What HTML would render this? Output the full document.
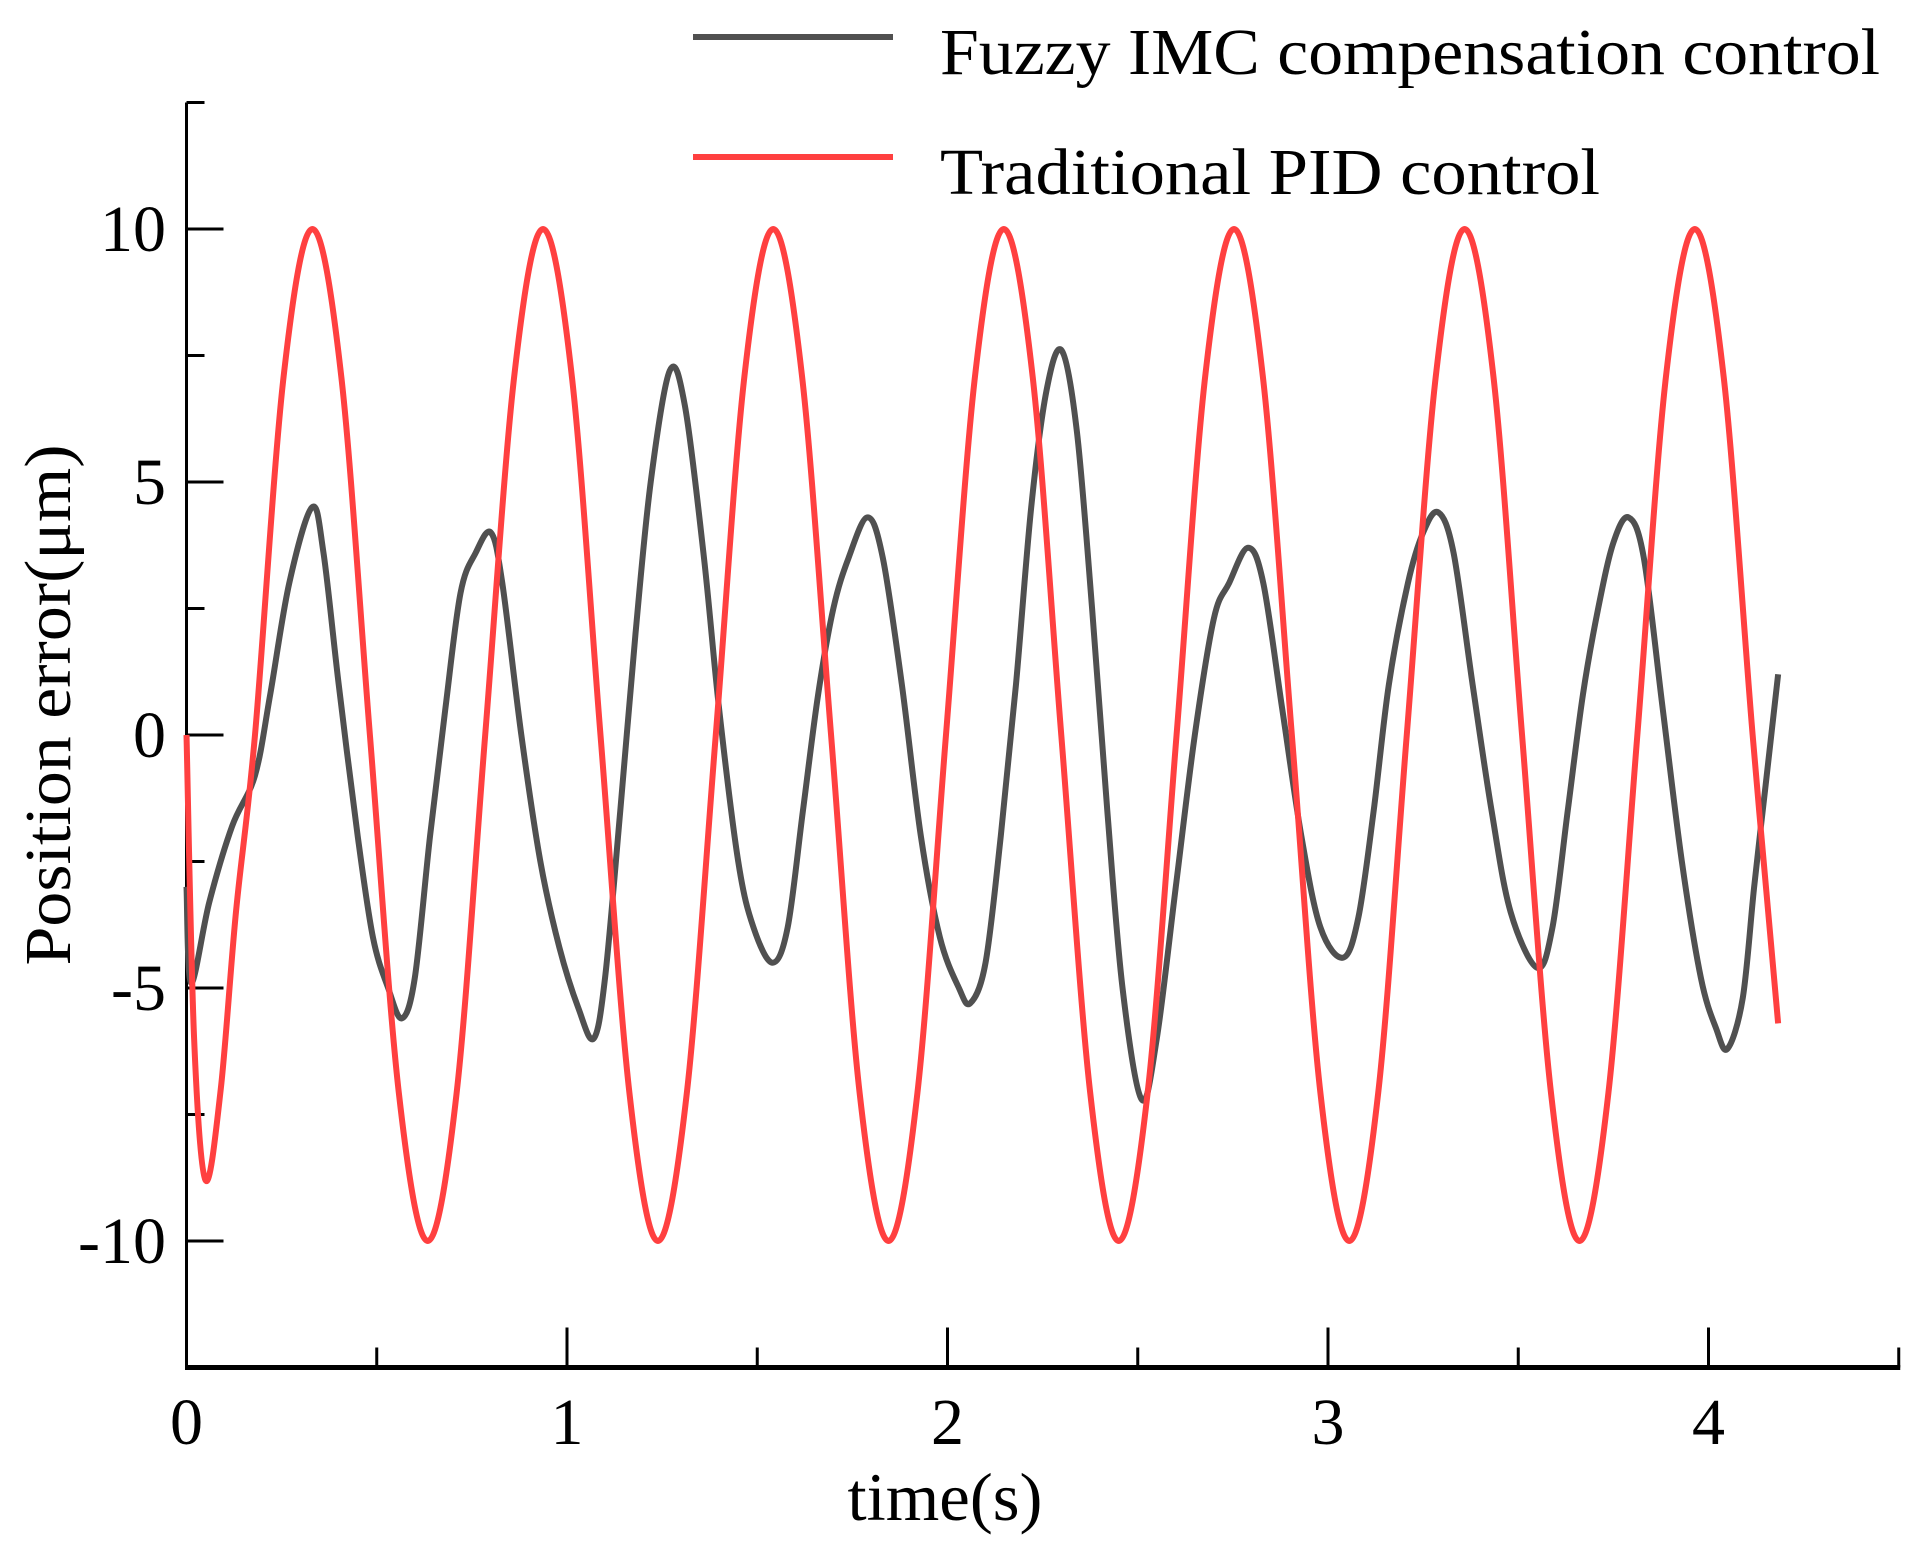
<!DOCTYPE html>
<html><head><meta charset="utf-8"><style>
html,body{margin:0;padding:0;background:#fff;}
svg{display:block;}
text{font-family:"Liberation Serif",serif;fill:#000;}
</style></head><body>
<svg id="chart" width="1914" height="1542" viewBox="0 0 1914 1542" xmlns="http://www.w3.org/2000/svg">
<g id="axes"></g>
<g id="series"></g>
<g>
<line x1="693" y1="37" x2="893" y2="37" stroke="#505050" stroke-width="6"/>
<text x="940" y="74" font-size="66" textLength="940" lengthAdjust="spacingAndGlyphs">Fuzzy IMC compensation control</text>
<line x1="693" y1="157" x2="893" y2="157" stroke="#ff4040" stroke-width="6"/>
<text x="940" y="194" font-size="66" textLength="660" lengthAdjust="spacingAndGlyphs">Traditional PID control</text>
</g>
<text x="945" y="1520" font-size="68" text-anchor="middle" textLength="195" lengthAdjust="spacingAndGlyphs">time(s)</text>
<text transform="translate(70,705) rotate(-90)" font-size="66" text-anchor="middle" textLength="521" lengthAdjust="spacingAndGlyphs">Position error(μm)</text>
</svg>
<script>
const xTicksMajor=[0,1,2,3,4];
const xTicksMinor=[0.5,1.5,2.5,3.5,4.5];
const yTicksMajor=[-10,-5,0,5,10];
const yTicksMinor=[-7.5,-2.5,2.5,7.5,12.5];
const pidT=[0,0.02,0.05,0.09,0.13,0.18,0.255,0.331,0.407,0.482,0.558,0.634,0.710,0.785,0.861,0.937,1.013,1.088,1.164,1.239,1.315,1.391,1.466,1.542,1.618,1.694,1.769,1.845,1.921,1.996,2.072,2.148,2.224,2.299,2.375,2.450,2.526,2.602,2.677,2.753,2.829,2.905,2.980,3.056,3.132,3.207,3.283,3.359,3.435,3.510,3.586,3.661,3.737,3.813,3.888,3.964,4.040,4.116,4.183];
const pidV=[0,-6,-8.8,-7,-3.5,0,7.07,10,7.07,0,-7.07,-10,-7.07,0,7.07,10,7.07,0,-7.07,-10,-7.07,0,7.07,10,7.07,0,-7.07,-10,-7.07,0,7.07,10,7.07,0,-7.07,-10,-7.07,0,7.07,10,7.07,0,-7.07,-10,-7.07,0,7.07,10,7.07,0,-7.07,-10,-7.07,0,7.07,10,7.07,0,-5.7];
const fuzzyT=[0,0.012,0.06,0.12,0.18,0.22,0.27,0.33,0.36,0.40,0.45,0.49,0.53,0.566,0.60,0.64,0.68,0.72,0.76,0.80,0.83,0.88,0.93,0.98,1.03,1.07,1.10,1.14,1.18,1.22,1.27,1.31,1.36,1.40,1.45,1.49,1.54,1.58,1.62,1.66,1.70,1.74,1.79,1.83,1.88,1.93,1.98,2.03,2.06,2.10,2.14,2.18,2.22,2.26,2.30,2.34,2.38,2.42,2.46,2.51,2.55,2.60,2.65,2.70,2.74,2.79,2.83,2.88,2.93,2.98,3.04,3.08,3.12,3.16,3.21,3.25,3.29,3.33,3.38,3.43,3.48,3.55,3.59,3.63,3.67,3.71,3.75,3.79,3.83,3.88,3.93,3.98,4.02,4.05,4.09,4.12,4.15,4.183];
const fuzzyV=[-3.0,-4.9,-3.3,-1.8,-0.8,0.8,3.0,4.5,3.6,1.0,-2.0,-4.0,-5.0,-5.6,-4.8,-2.0,0.5,2.8,3.6,4.0,3.0,0,-2.5,-4.2,-5.4,-6.0,-4.8,-1.5,2,5,7.2,6.5,3.5,0.5,-2.5,-3.8,-4.5,-3.8,-1.5,0.8,2.5,3.5,4.3,3.5,1.0,-2.0,-4.0,-5.0,-5.3,-4.5,-2.0,1,4.5,6.8,7.6,6.0,2.5,-1.5,-5,-7.2,-6.0,-3,0,2.3,3.0,3.7,3.0,0.5,-2,-3.8,-4.4,-3.6,-1.5,1,3,4,4.4,3.6,1,-1.5,-3.5,-4.6,-3.8,-1.5,0.8,2.5,3.8,4.3,3.5,0.5,-2.5,-4.8,-5.8,-6.2,-5.2,-3,-1,1.2];

const X0=186.5,XS=380.5,Y0=735,YS=50.6;
const xs=t=>X0+t*XS, ys=v=>Y0-v*YS;
const NS='http://www.w3.org/2000/svg';
const axes=document.getElementById('axes'), series=document.getElementById('series');
function mk(tag,attrs,parent){const e=document.createElementNS(NS,tag);for(const k in attrs)e.setAttribute(k,attrs[k]);parent.appendChild(e);return e;}

let yAxis=mk('line',{x1:xs(0),y1:ys(12.5),x2:xs(0),y2:ys(-12.5),stroke:'#000','stroke-width':3},axes);


let xAxis=mk('line',{x1:xs(0)-1.5,y1:ys(-12.5),x2:xs(4.5)+1.5,y2:ys(-12.5),stroke:'#000','stroke-width':5},axes);


yTicksMajor.forEach(v=>{
  let l=mk('line',{x1:xs(0),y1:ys(v),x2:xs(0)+37,y2:ys(v),stroke:'#000','stroke-width':3},axes);
  
  
  let t=mk('text',{x:166,y:ys(v)+22,'font-size':66,'text-anchor':'end'},axes);
  t.textContent=String(v);
  
  
});
yTicksMinor.forEach(v=>{
  let l=mk('line',{x1:xs(0),y1:ys(v),x2:xs(0)+18,y2:ys(v),stroke:'#000','stroke-width':3},axes);
  
  
});
xTicksMajor.forEach(v=>{
  let l=mk('line',{x1:xs(v),y1:ys(-12.5),x2:xs(v),y2:ys(-12.5)-40,stroke:'#000','stroke-width':3},axes);
  
  
  let t=mk('text',{x:xs(v),y:1444,'font-size':66,'text-anchor':'middle'},axes);
  t.textContent=String(v);
  
  
});
xTicksMinor.forEach(v=>{
  let l=mk('line',{x1:xs(v),y1:ys(-12.5),x2:xs(v),y2:ys(-12.5)-20,stroke:'#000','stroke-width':3},axes);
  
  
});
function smooth(T,V){
  const p=T.map((t,i)=>[xs(t),ys(V[i])]);
  let d='M'+p[0][0]+','+p[0][1];
  for(let i=0;i<p.length-1;i++){
    const a=p[Math.max(0,i-1)],b=p[i],c=p[i+1],e=p[Math.min(p.length-1,i+2)];
    const c1=[b[0]+(c[0]-a[0])/6,b[1]+(c[1]-a[1])/6],c2=[c[0]-(e[0]-b[0])/6,c[1]-(e[1]-b[1])/6];
    d+=' C'+c1.join(',')+' '+c2.join(',')+' '+c.join(',');
  }
  return d;
}
let fz=mk('path',{d:smooth(fuzzyT,fuzzyV),fill:'none',stroke:'#505050','stroke-width':6,'stroke-linejoin':'round'},series);


let pid=mk('path',{d:smooth(pidT,pidV),fill:'none',stroke:'#ff4040','stroke-width':6,'stroke-linejoin':'round'},series);


</script>
</body></html>
